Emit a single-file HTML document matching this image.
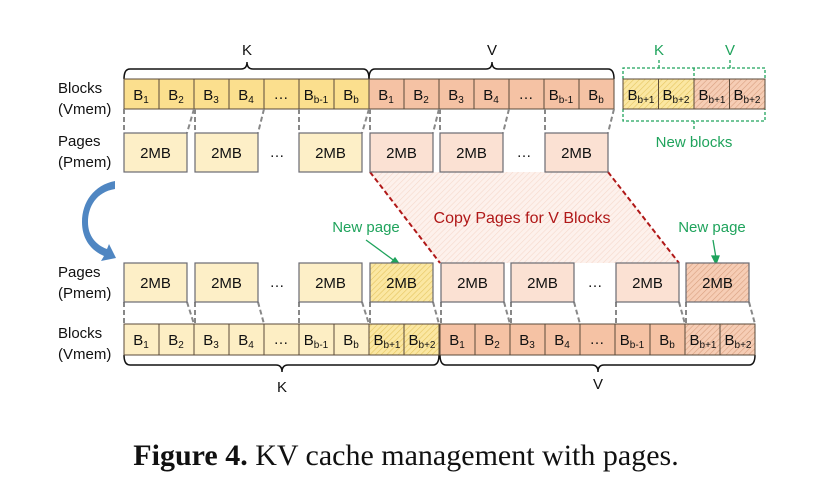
<!DOCTYPE html>
<html><head><meta charset="utf-8"><style>
html,body{margin:0;padding:0;background:#fff;}
svg{display:block;}
text{font-family:"Liberation Sans",sans-serif;}
</style></head><body>
<svg width="818" height="502" viewBox="0 0 818 502" xmlns="http://www.w3.org/2000/svg">
<defs>
<pattern id="hy" width="4" height="4" patternUnits="userSpaceOnUse" patternTransform="rotate(45)">
<rect width="4" height="4" fill="#fbe7a2"/><line x1="0" y1="0" x2="0" y2="4" stroke="#e6c560" stroke-width="1.2"/></pattern>
<pattern id="hv" width="4" height="4" patternUnits="userSpaceOnUse" patternTransform="rotate(45)">
<rect width="4" height="4" fill="#f6cdb5"/><line x1="0" y1="0" x2="0" y2="4" stroke="#d9a080" stroke-width="1.2"/></pattern>
<pattern id="hp" width="4" height="4" patternUnits="userSpaceOnUse" patternTransform="rotate(45)">
<rect width="4" height="4" fill="#fdf1ec"/><line x1="0" y1="0" x2="0" y2="4" stroke="#f6d9cc" stroke-width="1.2"/></pattern>
</defs>

<polygon points="370,172 608,172 679,263 440,263" fill="url(#hp)"/>
<line x1="370" y1="172" x2="440" y2="263" stroke="#b01818" stroke-width="2" stroke-dasharray="5,3"/>
<line x1="608" y1="172" x2="679" y2="263" stroke="#b01818" stroke-width="2" stroke-dasharray="5,3"/>
<text x="522" y="223" font-size="16" fill="#b01818" text-anchor="middle">Copy Pages for V Blocks</text>

<g font-size="15" fill="#111">
<text x="58" y="93">Blocks</text><text x="58" y="114">(Vmem)</text>
<text x="58" y="146">Pages</text><text x="58" y="167">(Pmem)</text>
<text x="58" y="277">Pages</text><text x="58" y="298">(Pmem)</text>
<text x="58" y="338">Blocks</text><text x="58" y="359">(Vmem)</text>
</g>

<g fill="none" stroke="#111" stroke-width="1.5">
<path d="M124,79 Q124,69 130,69 L241,69 Q247,69 247,62 Q247,69 253,69 L363,69 Q369,69 369,79"/>
<path d="M369,79 Q369,69 375,69 L486,69 Q492,69 492,62 Q492,69 498,69 L608,69 Q614,69 614,79"/>
<path d="M124,355 Q124,365 130,365 L276,365 Q282,365 282,372 Q282,365 288,365 L433,365 Q439,365 439,355"/>
<path d="M440,355 Q440,365 446,365 L592,365 Q598,365 598,372 Q598,365 604,365 L749,365 Q755,365 755,355"/>
</g>
<g font-size="15" fill="#111" text-anchor="middle">
<text x="247" y="55">K</text><text x="492" y="55">V</text>
<text x="282" y="392">K</text><text x="598" y="389">V</text>
</g>

<g fill="none" stroke="#1fa35c" stroke-width="1.3" stroke-dasharray="3,2">
<path d="M623,79 L623,68 L765,68 L765,79"/>
<path d="M623,109 L623,121 L765,121 L765,109"/>
<line x1="694" y1="68" x2="694" y2="79"/>
<line x1="694" y1="121" x2="694" y2="129"/>
<line x1="659" y1="60" x2="659" y2="68"/>
<line x1="730" y1="60" x2="730" y2="68"/>
</g>
<g font-size="15" fill="#1fa35c" text-anchor="middle">
<text x="659" y="55">K</text><text x="730" y="55">V</text>
<text x="694" y="147">New blocks</text>
<text x="366" y="232">New page</text>
<text x="712" y="232">New page</text>
</g>
<g stroke="#1fa35c" stroke-width="1.3" fill="#1fa35c">
<line x1="366" y1="240" x2="396" y2="262"/><polygon points="400,265 391,263 395,258"/>
<line x1="713" y1="240" x2="716" y2="258"/><polygon points="716,264 712,256 719,256"/>
</g>

<g stroke="#5a4a3a" stroke-width="1">
<rect x="124" y="79" width="245" height="30" fill="#fbdf8e"/>
<rect x="369" y="79" width="245" height="30" fill="#f5c2a4"/>
<line x1="159" y1="79" x2="159" y2="109"/><line x1="194" y1="79" x2="194" y2="109"/><line x1="229" y1="79" x2="229" y2="109"/><line x1="264" y1="79" x2="264" y2="109"/><line x1="299" y1="79" x2="299" y2="109"/><line x1="334" y1="79" x2="334" y2="109"/>
<line x1="404" y1="79" x2="404" y2="109"/><line x1="439" y1="79" x2="439" y2="109"/><line x1="474" y1="79" x2="474" y2="109"/><line x1="509" y1="79" x2="509" y2="109"/><line x1="544" y1="79" x2="544" y2="109"/><line x1="579" y1="79" x2="579" y2="109"/>
<rect x="623" y="79" width="71" height="30" fill="url(#hy)"/>
<rect x="694" y="79" width="71" height="30" fill="url(#hv)"/>
<line x1="658.5" y1="79" x2="658.5" y2="109"/><line x1="729.5" y1="79" x2="729.5" y2="109"/>
</g>

<g stroke="#5a4a3a" stroke-width="1">
<rect x="124" y="324" width="245" height="31" fill="#fdeec4"/>
<rect x="369" y="324" width="70" height="31" fill="url(#hy)"/>
<rect x="440" y="324" width="245" height="31" fill="#f5c2a4"/>
<rect x="685" y="324" width="70" height="31" fill="url(#hv)"/>
<line x1="159" y1="324" x2="159" y2="355"/><line x1="194" y1="324" x2="194" y2="355"/><line x1="229" y1="324" x2="229" y2="355"/><line x1="264" y1="324" x2="264" y2="355"/><line x1="299" y1="324" x2="299" y2="355"/><line x1="334" y1="324" x2="334" y2="355"/><line x1="404" y1="324" x2="404" y2="355"/>
<line x1="475" y1="324" x2="475" y2="355"/><line x1="510" y1="324" x2="510" y2="355"/><line x1="545" y1="324" x2="545" y2="355"/><line x1="580" y1="324" x2="580" y2="355"/><line x1="615" y1="324" x2="615" y2="355"/><line x1="650" y1="324" x2="650" y2="355"/><line x1="720" y1="324" x2="720" y2="355"/>
</g>

<g font-size="15" fill="#111" text-anchor="middle">
<text x="141" y="100">B<tspan font-size="10" dy="3">1</tspan></text>
<text x="176" y="100">B<tspan font-size="10" dy="3">2</tspan></text>
<text x="211" y="100">B<tspan font-size="10" dy="3">3</tspan></text>
<text x="246" y="100">B<tspan font-size="10" dy="3">4</tspan></text>
<text x="281" y="99">…</text>
<text x="316" y="100">B<tspan font-size="10" dy="3">b-1</tspan></text>
<text x="351" y="100">B<tspan font-size="10" dy="3">b</tspan></text>
<text x="386" y="100">B<tspan font-size="10" dy="3">1</tspan></text>
<text x="421" y="100">B<tspan font-size="10" dy="3">2</tspan></text>
<text x="456" y="100">B<tspan font-size="10" dy="3">3</tspan></text>
<text x="491" y="100">B<tspan font-size="10" dy="3">4</tspan></text>
<text x="526" y="99">…</text>
<text x="561" y="100">B<tspan font-size="10" dy="3">b-1</tspan></text>
<text x="596" y="100">B<tspan font-size="10" dy="3">b</tspan></text>
<text x="641" y="100">B<tspan font-size="10" dy="3">b+1</tspan></text>
<text x="676" y="100">B<tspan font-size="10" dy="3">b+2</tspan></text>
<text x="712" y="100">B<tspan font-size="10" dy="3">b+1</tspan></text>
<text x="747" y="100">B<tspan font-size="10" dy="3">b+2</tspan></text>

<text x="141" y="345">B<tspan font-size="10" dy="3">1</tspan></text>
<text x="176" y="345">B<tspan font-size="10" dy="3">2</tspan></text>
<text x="211" y="345">B<tspan font-size="10" dy="3">3</tspan></text>
<text x="246" y="345">B<tspan font-size="10" dy="3">4</tspan></text>
<text x="281" y="344">…</text>
<text x="316" y="345">B<tspan font-size="10" dy="3">b-1</tspan></text>
<text x="351" y="345">B<tspan font-size="10" dy="3">b</tspan></text>
<text x="387" y="345">B<tspan font-size="10" dy="3">b+1</tspan></text>
<text x="422" y="345">B<tspan font-size="10" dy="3">b+2</tspan></text>
<text x="457" y="345">B<tspan font-size="10" dy="3">1</tspan></text>
<text x="492" y="345">B<tspan font-size="10" dy="3">2</tspan></text>
<text x="527" y="345">B<tspan font-size="10" dy="3">3</tspan></text>
<text x="562" y="345">B<tspan font-size="10" dy="3">4</tspan></text>
<text x="597" y="344">…</text>
<text x="632" y="345">B<tspan font-size="10" dy="3">b-1</tspan></text>
<text x="667" y="345">B<tspan font-size="10" dy="3">b</tspan></text>
<text x="703" y="345">B<tspan font-size="10" dy="3">b+1</tspan></text>
<text x="738" y="345">B<tspan font-size="10" dy="3">b+2</tspan></text>
</g>

<g stroke="#888" stroke-width="2" stroke-dasharray="5,3">
<line x1="124" y1="109" x2="124" y2="133"/><line x1="194" y1="109" x2="187" y2="133"/>
<line x1="195" y1="109" x2="195" y2="133"/><line x1="264" y1="109" x2="258" y2="133"/>
<line x1="299" y1="109" x2="299" y2="133"/><line x1="369" y1="109" x2="362" y2="133"/>
<line x1="370" y1="109" x2="370" y2="133"/><line x1="439" y1="109" x2="433" y2="133"/>
<line x1="440" y1="109" x2="440" y2="133"/><line x1="509" y1="109" x2="503" y2="133"/>
<line x1="545" y1="109" x2="545" y2="133"/><line x1="614" y1="109" x2="608" y2="133"/>

<line x1="124" y1="302" x2="124" y2="324"/><line x1="187" y1="302" x2="194" y2="324"/>
<line x1="195" y1="302" x2="195" y2="324"/><line x1="258" y1="302" x2="264" y2="324"/>
<line x1="299" y1="302" x2="299" y2="324"/><line x1="362" y1="302" x2="369" y2="324"/>
<line x1="370" y1="302" x2="370" y2="324"/><line x1="433" y1="302" x2="439" y2="324"/>
<line x1="441" y1="302" x2="441" y2="324"/><line x1="504" y1="302" x2="510" y2="324"/>
<line x1="511" y1="302" x2="511" y2="324"/><line x1="574" y1="302" x2="580" y2="324"/>
<line x1="616" y1="302" x2="616" y2="324"/><line x1="679" y1="302" x2="685" y2="324"/>
<line x1="686" y1="302" x2="686" y2="324"/><line x1="749" y1="302" x2="755" y2="324"/>
</g>

<g stroke="#6a6a72" stroke-width="1.2">
<rect x="124" y="133" width="63" height="39" fill="#fdefc7"/>
<rect x="195" y="133" width="63" height="39" fill="#fdefc7"/>
<rect x="299" y="133" width="63" height="39" fill="#fdefc7"/>
<rect x="370" y="133" width="63" height="39" fill="#fbe1d3"/>
<rect x="440" y="133" width="63" height="39" fill="#fbe1d3"/>
<rect x="545" y="133" width="63" height="39" fill="#fbe1d3"/>

<rect x="124" y="263" width="63" height="39" fill="#fdefc7"/>
<rect x="195" y="263" width="63" height="39" fill="#fdefc7"/>
<rect x="299" y="263" width="63" height="39" fill="#fdefc7"/>
<rect x="370" y="263" width="63" height="39" fill="url(#hy)"/>
<rect x="441" y="263" width="63" height="39" fill="#fbe1d3"/>
<rect x="511" y="263" width="63" height="39" fill="#fbe1d3"/>
<rect x="616" y="263" width="63" height="39" fill="#fbe1d3"/>
<rect x="686" y="263" width="63" height="39" fill="url(#hv)"/>
</g>
<g font-size="15" fill="#111" text-anchor="middle">
<text x="155.5" y="158">2MB</text><text x="226.5" y="158">2MB</text><text x="277" y="157">…</text><text x="330.5" y="158">2MB</text>
<text x="401.5" y="158">2MB</text><text x="471.5" y="158">2MB</text><text x="524" y="157">…</text><text x="576.5" y="158">2MB</text>
<text x="155.5" y="288">2MB</text><text x="226.5" y="288">2MB</text><text x="277" y="287">…</text><text x="330.5" y="288">2MB</text><text x="401.5" y="288">2MB</text>
<text x="472.5" y="288">2MB</text><text x="542.5" y="288">2MB</text><text x="595" y="287">…</text><text x="647.5" y="288">2MB</text><text x="717.5" y="288">2MB</text>
</g>

<path d="M115,181 L115,189 C96,192 88,207 88,222 C88,236 96,245 107,249 L109,244 L116,258 L101,261 L104,256 C90,250 82,238 82,222 C82,202 94,185 115,181 Z" fill="#4f86c2"/>

<text x="406" y="465" style="font-family:'Liberation Serif',serif;font-size:30px" fill="#111" text-anchor="middle"><tspan font-weight="bold">Figure 4.</tspan> KV cache management with pages.</text>
</svg>
</body></html>
